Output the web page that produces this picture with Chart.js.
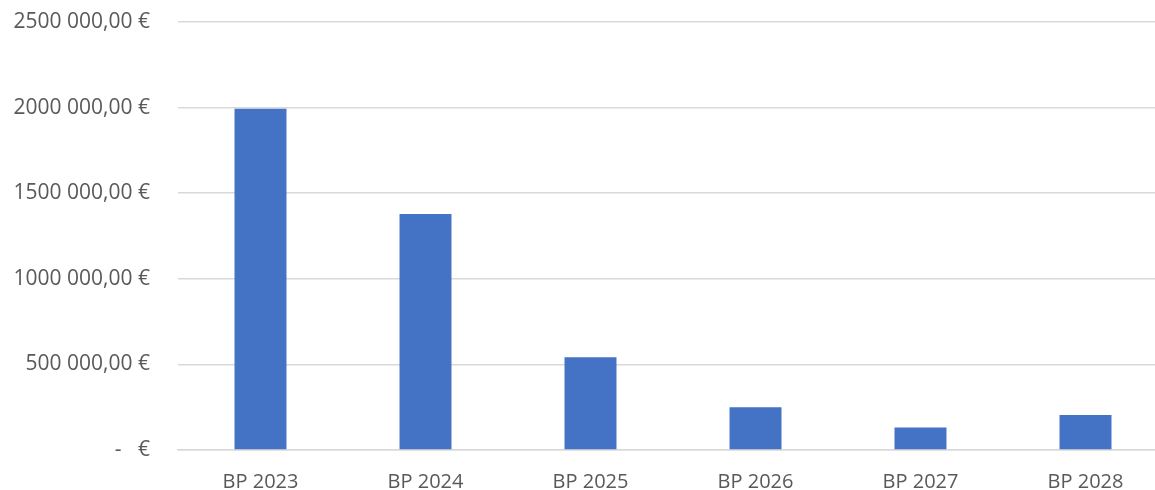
<!DOCTYPE html>
<html>
<head>
<meta charset="utf-8">
<script src="https://cdn.jsdelivr.net/npm/chart.js@4"></script>
<style>
  html, body { margin: 0; padding: 0; background: #fff; overflow: hidden; }
  #wrap { position: relative; width: 1168px; height: 490px; }
</style>
</head>
<body>
<div id="wrap"><canvas id="c"></canvas></div>
<script>
const categories = ["BP 2023", "BP 2024", "BP 2025", "BP 2026", "BP 2027", "BP 2028"];
const values = [1994000, 1378000, 542000, 250000, 131000, 204000];
const tickValues = [0, 500000, 1000000, 1500000, 2000000, 2500000];
const tickLabels = ["-   €", "500 000,00 €", "1000 000,00 €", "1500 000,00 €", "2000 000,00 €", "2500 000,00 €"];

const FONT = "'Open Sans', 'Noto Sans', sans-serif";

new Chart(document.getElementById('c'), {
  type: 'bar',
  data: {
    labels: categories,
    datasets: [{
      data: values,
      backgroundColor: '#4472c4',
      borderWidth: 0,
      barPercentage: 1,
      categoryPercentage: 0.315
    }]
  },
  options: {
    responsive: true,
    maintainAspectRatio: false,
    animation: false,
    devicePixelRatio: 1,
    layout: { padding: { top: 22, right: 0, bottom: 0, left: 0 } },
    plugins: { legend: { display: false }, tooltip: { enabled: false } },
    scales: {
      x: {
        grid: { display: false, drawTicks: false },
        border: { display: true, color: '#d9d9d9', width: 1.5 },
        ticks: { color: '#595959', font: { family: FONT, size: 20 }, padding: 20, maxRotation: 0 },
        afterFit: s => { s.height = 40; s.paddingLeft = 0; s.paddingRight = 0; }
      },
      y: {
        min: 0,
        max: 2500000,
        afterBuildTicks: s => { s.ticks = tickValues.map(v => ({ value: v })); },
        grid: { color: '#d9d9d9', lineWidth: 1.5, drawTicks: false },
        border: { display: false },
        ticks: {
          color: '#595959',
          font: { family: FONT, size: 21 },
          padding: 28,
          callback: v => tickLabels[tickValues.indexOf(v)]
        },
        afterFit: s => { s.width = 178; s.paddingTop = 0; s.paddingBottom = 0; }
      }
    }
  }
});
</script>
</body>
</html>
